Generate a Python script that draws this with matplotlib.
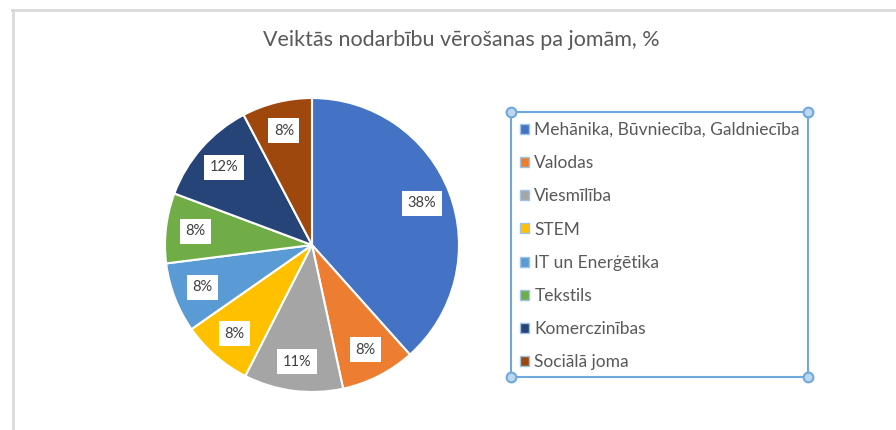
import matplotlib.pyplot as plt
from matplotlib.patches import Rectangle, Patch
from matplotlib.lines import Line2D

# chart data (shares; labels rounded as in the chart)
title = 'Veiktās nodarbību vērošanas pa jomām, %'
categories = ['Mehānika, Būvniecība, Galdniecība', 'Valodas', 'Viesmīlība', 'STEM',
              'IT un Enerģētika', 'Tekstils', 'Komerczinības', 'Sociālā joma']
values = [38.4, 8.2, 10.9, 7.8, 7.7, 7.7, 11.6, 7.7]
colors = ['#4472C4', '#ED7D31', '#A5A5A5', '#FFC000',
          '#5B9BD5', '#70AD47', '#264478', '#9E480E']

W, H = 896, 430
plt.rcParams['font.family'] = ['Lato', 'DejaVu Sans']


def fx(x):
    return x / W


def fy(y):
    return 1 - y / H


fig = plt.figure(figsize=(W / 100, H / 100), dpi=100)

# chart area border (only left and top visible)
fig.add_artist(Line2D([fx(12.5), fx(12.5)], [fy(10), fy(430)], color='#D9D9D9', lw=2))
fig.add_artist(Line2D([fx(12), fx(896)], [fy(10), fy(10)], color='#D9D9D9', lw=2))

fig.text(fx(461), fy(40), title, ha='center', va='center', fontsize=15.5, color='#595959')

# pie
r = 147
cx, cy = 312, 245
ax = fig.add_axes([fx(cx - r), fy(cy + r), 2 * r / W, 2 * r / H])
wedges, texts, autotexts = ax.pie(values, colors=colors, startangle=90, counterclock=False,
                                  autopct='%.0f%%', pctdistance=0.8,
                                  wedgeprops=dict(edgecolor='white', linewidth=1.5))
for t in autotexts:
    t.set_fontsize(10.5)
    t.set_color('#404040')
    t.set_bbox(dict(facecolor='white', edgecolor='none', pad=4))
ax.set_xlim(-1, 1)
ax.set_ylim(-1, 1)
ax.set_aspect('equal')

# legend box with selection handles
lx0, ly0, lx1, ly1 = 511, 112, 808, 377
sel = '#6FA8DC'
fig.add_artist(Rectangle((fx(lx0), fy(ly1)), (lx1 - lx0) / W, (ly1 - ly0) / H,
                         fill=False, edgecolor=sel, lw=1.5))
for px, py in [(lx0, ly0), (lx1, ly0), (lx0, ly1), (lx1, ly1)]:
    fig.add_artist(Line2D([fx(px)], [fy(py)], marker='o', markersize=7,
                          markerfacecolor='#BDD7EE', markeredgecolor=sel, mew=1.5))

handles = [Patch(facecolor=c, edgecolor='#9DC3E6', lw=1) for c in colors]
fig.legend(handles, categories, loc='upper left', bbox_to_anchor=(fx(520), fy(122)),
           frameon=False, fontsize=12.5, labelcolor='#595959',
           handlelength=0.5, handleheight=0.5, handletextpad=0.33,
           labelspacing=0.99, borderpad=0, borderaxespad=0)

fig.savefig('out.png', dpi=100)
